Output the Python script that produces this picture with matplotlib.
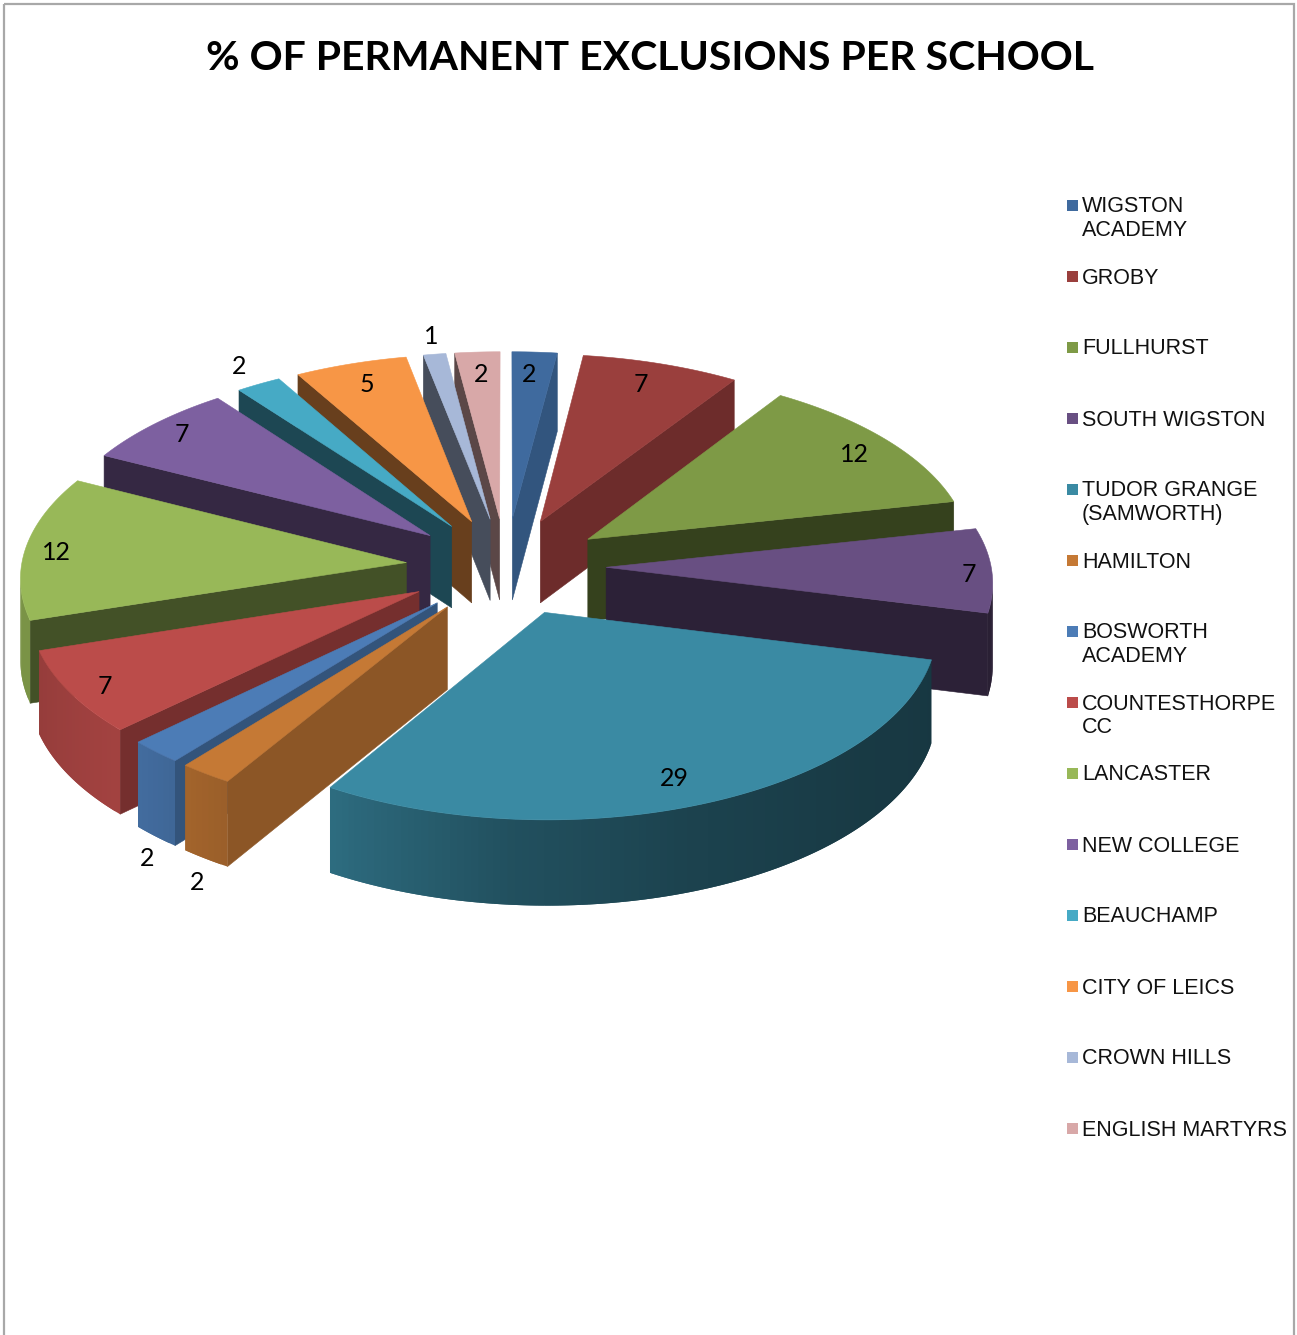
import numpy as np
import matplotlib
matplotlib.use("Agg")
import matplotlib.pyplot as plt
from matplotlib.colors import to_rgb
from matplotlib.patches import Rectangle

# Chart content
title = "% OF PERMANENT EXCLUSIONS PER SCHOOL"
schools = ["WIGSTON\nACADEMY", "GROBY", "FULLHURST", "SOUTH WIGSTON",
           "TUDOR GRANGE\n(SAMWORTH)", "HAMILTON", "BOSWORTH\nACADEMY",
           "COUNTESTHORPE\nCC", "LANCASTER", "NEW COLLEGE", "BEAUCHAMP",
           "CITY OF LEICS", "CROWN HILLS", "ENGLISH MARTYRS"]
exclusions = [2, 7, 12, 7, 29, 2, 2, 7, 12, 7, 2, 5, 1, 2]
colours = ["#3f6a9e", "#9a3f3d", "#7e9a46", "#684f82", "#3a8aa3", "#c57935",
           "#4c7cb6", "#bb4c4a", "#98b858", "#7d60a0", "#46aac5", "#f79646",
           "#a7b8d8", "#d8a8a8"]
label_xy = [(529, 373), (641, 383), (854, 453), (969, 573), (674, 777),
            (197, 881), (147, 857), (105, 685), (56, 551), (182, 434),
            (239, 366), (367, 384), (431, 336), (481, 373)]

# Projection of the exploded 3-D pie onto the page, in pixels
CX, CY = 506.0, 566.5
RX, RY = 385.0, 187.5
PERSP_X, PERSP_Y = 0.07, 0.072
EXPLODE = 0.26
STEP = 1.0


def project(gx, gy, base=False):
    x = CX + RX * gx * (1 + PERSP_X * gy)
    y = CY + RY * gy * (1 + PERSP_Y * gy)
    if base:
        y += 82 + 3 * gy
    return x, y


def shade(colour, k):
    return tuple(min(1.0, c * k) for c in to_rgb(colour))


def wall_shade(deg):
    return np.interp(deg, [90, 104, 130, 160, 185, 211, 226, 252, 275],
                     [.42, .40, .42, .48, .58, .78, .87, .80, .80])


def cut_shade(normal_deg):
    return np.interp(normal_deg, [97, 125, 140, 165], [.80, .70, .60, .42])


fig = plt.figure(figsize=(12.97, 13.35), dpi=100, facecolor="white")
ax = fig.add_axes([0, 0, 1, 1])
ax.set_xlim(0, 1297)
ax.set_ylim(1335, 0)
ax.axis("off")

# Chart frame
ax.add_patch(Rectangle((4, 4), 1290, 1345, fill=False, ec="#a8a8a8", lw=1.6))

ax.text(650, 58, title, ha="center", va="center", fontsize=29.5,
        fontweight="bold", family="Lato", color="black")

# Slice angles, clockwise from twelve o'clock
total = sum(exclusions)
ends = np.cumsum(exclusions) / total * 360.0
starts = np.concatenate([[0.0], ends[:-1]])


def slice_ground(i):
    """Ground-plane rim points and apex of one exploded slice."""
    t0, t1 = starts[i], ends[i]
    mid = np.radians((t0 + t1) / 2)
    ox, oy = EXPLODE * np.sin(mid), -EXPLODE * np.cos(mid)
    n = max(2, int((t1 - t0) / STEP) + 1)
    th = np.linspace(t0, t1, n)
    gx = ox + np.sin(np.radians(th))
    gy = oy - np.cos(np.radians(th))
    return th, gx, gy, ox, oy


def depth_key(i):
    th, gx, gy, ox, oy = slice_ground(i)
    return (gy.mean() + oy) / 2


def face(points, colour, z, edge=True):
    xs, ys = zip(*points)
    ax.fill(xs, ys, fc=colour, ec=colour if edge else "none",
            lw=0.4 if edge else 0, zorder=z)


z = 2
for i in sorted(range(len(exclusions)), key=depth_key):
    col = colours[i]
    th, gx, gy, ox, oy = slice_ground(i)
    t0, t1 = starts[i], ends[i]
    apex_t, apex_b = project(ox, oy), project(ox, oy, True)

    # Radial cut faces that look towards the viewer
    if np.sin(np.radians(t0)) < 0:
        rim_t, rim_b = project(gx[0], gy[0]), project(gx[0], gy[0], True)
        face([apex_t, rim_t, rim_b, apex_b], shade(col, cut_shade(t0 - 90)), z)
        z += 1
    if np.sin(np.radians(t1)) > 0:
        rim_t, rim_b = project(gx[-1], gy[-1]), project(gx[-1], gy[-1], True)
        face([apex_t, rim_t, rim_b, apex_b], shade(col, cut_shade(t1 + 90)), z)
        z += 1

    # Curved outer wall: each strip runs on under its successor so no seams show
    last = len(th) - 1
    for j in range(last):
        a_t, b_t = project(gx[j], gy[j]), project(gx[j + 1], gy[j + 1])
        if b_t[0] >= a_t[0]:
            continue
        k = min(j + 2, last)
        c_t, c_b = project(gx[k], gy[k]), project(gx[k], gy[k], True)
        a_b, b_b = project(gx[j], gy[j], True), project(gx[j + 1], gy[j + 1], True)
        face([a_t, b_t, c_t, c_b, b_b, a_b],
             shade(col, wall_shade((th[j] + th[j + 1]) / 2)), z, edge=False)
        z += 1

    # Top surface
    top = [apex_t] + [project(a, b) for a, b in zip(gx, gy)]
    face(top, col, z)
    z += 1

for value, (lx, ly) in zip(exclusions, label_xy):
    ax.text(lx, ly + 1, str(value), ha="center", va="center", fontsize=18,
            family="Lato", color="black", zorder=5000)

# Legend column
for i, (name, col) in enumerate(zip(schools, colours)):
    row_y = 205 + 71 * i
    ax.add_patch(Rectangle((1067, row_y - 5.5), 11, 11, fc=col, ec="none"))
    ax.text(1082, row_y - 8.5, name, ha="left", va="top", fontsize=15.5,
            family="Liberation Sans", color="#111111", linespacing=1.16)

fig.savefig("out.png", dpi=100)
